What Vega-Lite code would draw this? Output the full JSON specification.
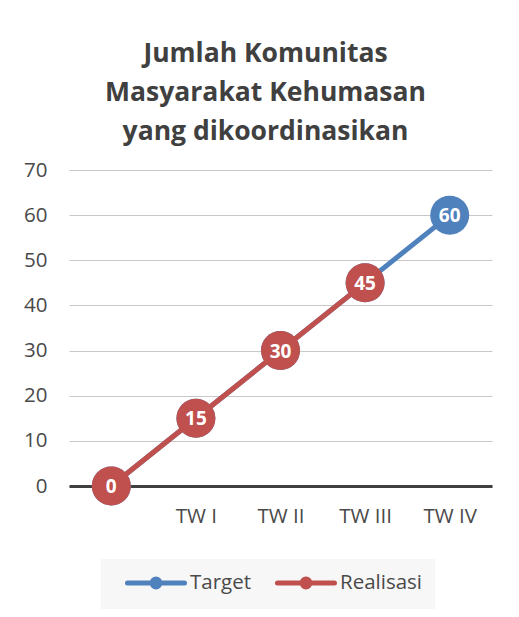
{
  "$schema": "https://vega.github.io/schema/vega-lite/v6.json",
  "autosize": "none",
  "width": 423,
  "height": 316,
  "padding": {"left": 69, "top": 170, "right": 27, "bottom": 131},
  "background": "white",
  "config": {
    "view": {"stroke": null},
    "font": "Open Sans"
  },
  "title": {
    "text": ["Jumlah Komunitas", "Masyarakat Kehumasan", "yang dikoordinasikan"],
    "font": "Open Sans",
    "fontSize": 26.5,
    "fontWeight": "bold",
    "color": "#404040",
    "lineHeight": 39,
    "anchor": "middle",
    "frame": "group",
    "dx": -15,
    "offset": 15
  },
  "data": {
    "values": [
      {"q": " ", "series": "Target", "value": 0},
      {"q": "TW I", "series": "Target", "value": 15},
      {"q": "TW II", "series": "Target", "value": 30},
      {"q": "TW III", "series": "Target", "value": 45},
      {"q": "TW IV", "series": "Target", "value": 60},
      {"q": " ", "series": "Realisasi", "value": 0},
      {"q": "TW I", "series": "Realisasi", "value": 15},
      {"q": "TW II", "series": "Realisasi", "value": 30},
      {"q": "TW III", "series": "Realisasi", "value": 45}
    ]
  },
  "encoding": {
    "x": {
      "field": "q",
      "type": "ordinal",
      "sort": [" ", "TW I", "TW II", "TW III", "TW IV"],
      "scale": {"type": "point", "padding": 0.5},
      "axis": {
        "title": null,
        "labelAngle": 0,
        "ticks": false,
        "grid": false,
        "domain": true,
        "domainColor": "#404040",
        "domainWidth": 3,
        "labelFont": "Open Sans",
        "labelFontSize": 20.5,
        "labelColor": "#4a4a4a",
        "labelPadding": 20
      }
    },
    "y": {
      "field": "value",
      "type": "quantitative",
      "scale": {"domain": [0, 70], "nice": false},
      "axis": {
        "title": null,
        "values": [0, 10, 20, 30, 40, 50, 60, 70],
        "domain": false,
        "ticks": false,
        "grid": true,
        "gridColor": "#c8c8c8",
        "gridWidth": 1,
        "labelFont": "Open Sans",
        "labelFontSize": 20.5,
        "labelColor": "#4a4a4a",
        "labelPadding": 22
      }
    },
    "color": {
      "field": "series",
      "type": "nominal",
      "scale": {"domain": ["Target", "Realisasi"], "range": ["#4f81bd", "#c0504d"]},
      "legend": {
        "title": null,
        "orient": "none",
        "direction": "horizontal",
        "legendX": 32,
        "legendY": 389,
        "fillColor": "#f7f7f7",
        "padding": 12,
        "symbolType": "M0.263,0L6.263,0M2.842,0A0.421,0.421,0,1,0,3.684,0A0.421,0.421,0,1,0,2.842,0Z",
        "symbolSize": 361,
        "symbolStrokeWidth": 5,
        "symbolOpacity": 1,
        "labelFont": "Open Sans",
        "labelFontSize": 20.5,
        "labelColor": "#4a4a4a",
        "labelOffset": 53,
        "columnPadding": 11,
        "encode": {
          "symbols": {
            "update": {
              "fill": {"scale": "color", "field": "value"},
              "stroke": {"scale": "color", "field": "value"},
              "strokeCap": {"value": "round"}
            }
          }
        }
      }
    }
  },
  "layer": [
    {
      "transform": [{"filter": "datum.series === 'Target'"}],
      "mark": {"type": "line", "strokeWidth": 5, "strokeCap": "round"}
    },
    {
      "transform": [{"filter": "datum.series === 'Target'"}],
      "mark": {"type": "point", "filled": true, "size": 1520, "opacity": 1, "shape": "circle"}
    },
    {
      "transform": [{"filter": "datum.series === 'Target'"}],
      "mark": {"type": "text", "color": "white", "fontWeight": "bold", "fontSize": 19, "font": "Open Sans", "baseline": "middle", "dy": 1},
      "encoding": {"text": {"field": "value", "type": "quantitative"}, "color": {"value": "white"}}
    },
    {
      "transform": [{"filter": "datum.series === 'Realisasi'"}],
      "mark": {"type": "line", "strokeWidth": 5, "strokeCap": "round"}
    },
    {
      "transform": [{"filter": "datum.series === 'Realisasi'"}],
      "mark": {"type": "point", "filled": true, "size": 1520, "opacity": 1, "shape": "circle"}
    },
    {
      "transform": [{"filter": "datum.series === 'Realisasi'"}],
      "mark": {"type": "text", "color": "white", "fontWeight": "bold", "fontSize": 19, "font": "Open Sans", "baseline": "middle", "dy": 1},
      "encoding": {"text": {"field": "value", "type": "quantitative"}, "color": {"value": "white"}}
    }
  ]
}
